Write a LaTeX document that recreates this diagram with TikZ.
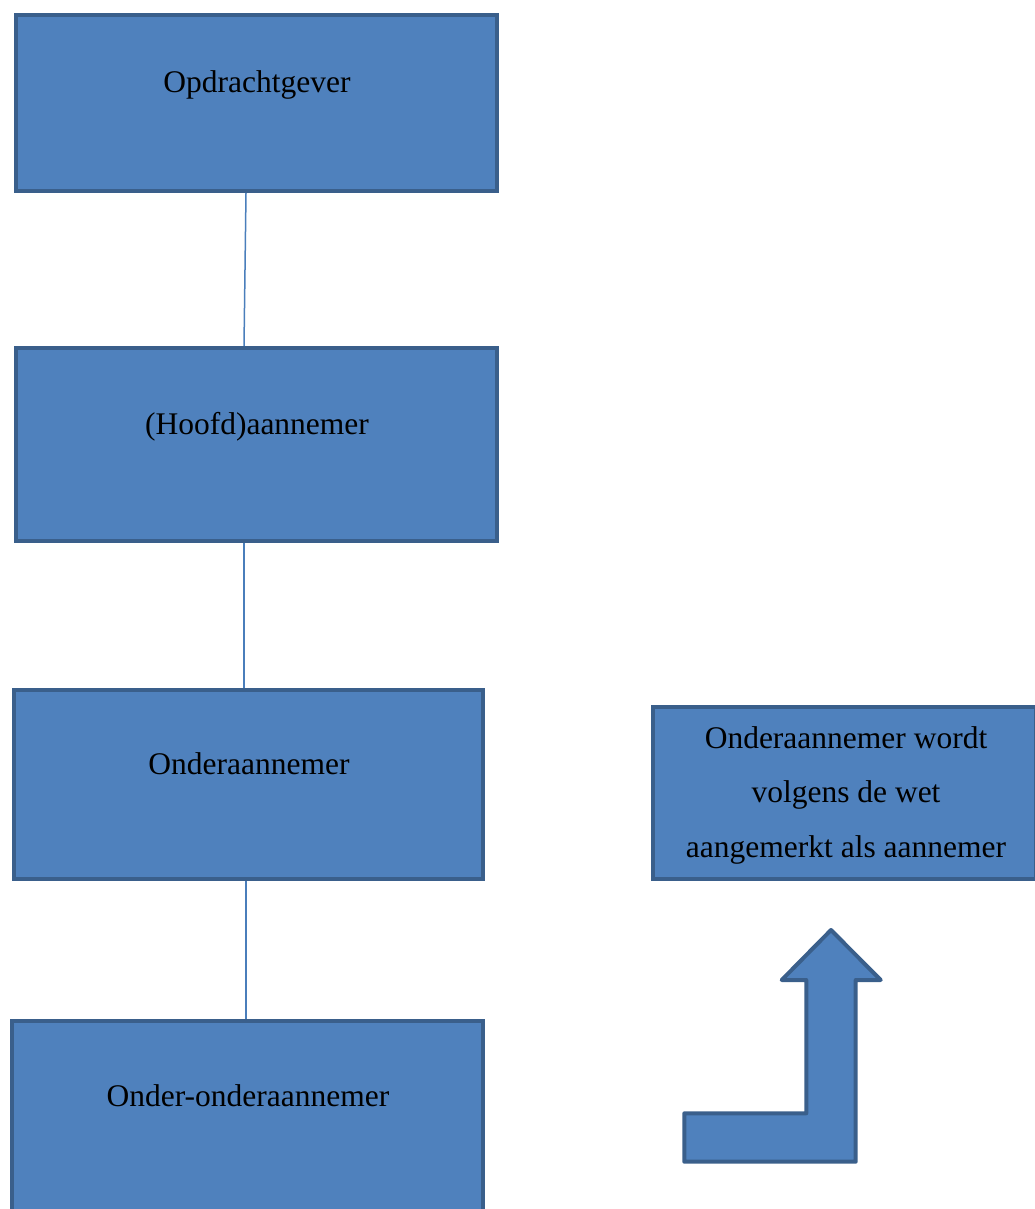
\documentclass[tikz,border=0pt]{standalone}
\usepackage{fontspec}
\setmainfont{Liberation Serif}
\usepackage{tikz}
\usetikzlibrary{positioning}
\usetikzlibrary{calc}

\definecolor{boxfill}{HTML}{4F81BD}
\definecolor{boxline}{HTML}{3A5F8B}
\definecolor{linkline}{HTML}{4A7EBB}

\begin{document}
\begin{tikzpicture}[x=1pt,y=-1pt]
  \useasboundingbox (0,0) rectangle (1035,1209);

  \tikzset{node common/.style={draw=boxline, line width=4pt, fill=boxfill, inner sep=0pt}}
  \tikzset{party node/.style={node common, rectangle}}
  \tikzset{label node/.style={anchor=base, inner sep=0pt, font=\fontsize{31.5}{38}\selectfont}}
  \tikzset{link/.style={draw=linkline, line width=1.5pt}}

  \coordinate (origin) at (0, 0);

  % chain of contractors
  \node[party node, minimum width=481pt, minimum height=176pt] (b1) at ($(origin)+(256.5,103)$) {};
  \node[party node, minimum width=481pt, minimum height=193pt] (b2) at ($(origin)+(256.5,444.5)$) {};
  \node[party node, minimum width=469pt, minimum height=189pt] (b3) at ($(origin)+(248.5,784.5)$) {};
  \node[party node, minimum width=471pt, minimum height=192pt] (b4) at ($(origin)+(247.5,1117)$) {};
  %
  \node[label node] (t1) at ($(origin)+(257,93)$) {Opdrachtgever};
  \node[label node] (t2) at ($(origin)+(257,434)$) {(Hoofd)aannemer};
  \node[label node] (t3) at ($(origin)+(249,774)$) {Onderaannemer};
  \node[label node] (t4) at ($(origin)+(248,1106)$) {Onder-onderaannemer};
  %
  \draw[link] ($(b1.south)+(-10.5,0)$) to ($(b2.north)+(-12.5,0)$);
  \draw[link] ($(b2.south)+(-12.5,0)$) to ($(b3.north)+(-4.5,0)$);
  \draw[link] ($(b3.south)+(-2.5,0)$) to ($(b4.north)+(-1.5,0)$);

  % side note
  \node[party node, minimum width=383pt, minimum height=172pt] (b5) at ($(origin)+(844.5,793)$) {};
  \node[label node] (r1) at ($(origin)+(846,748)$) {Onderaannemer wordt};
  \node[label node] (r2) at ($(origin)+(846,802.5)$) {volgens de wet};
  \node[label node] (r3) at ($(origin)+(846,857)$) {aangemerkt als aannemer};

  % bent arrow
  \draw[node common, line join=round]
    (831,930) -- (880.7,980) -- (855.7,980) -- (855.7,1161.7) -- (684.3,1161.7)
    -- (684.3,1113.3) -- (806.3,1113.3) -- (806.3,980) -- (781.7,980) -- cycle;
\end{tikzpicture}
\end{document}
